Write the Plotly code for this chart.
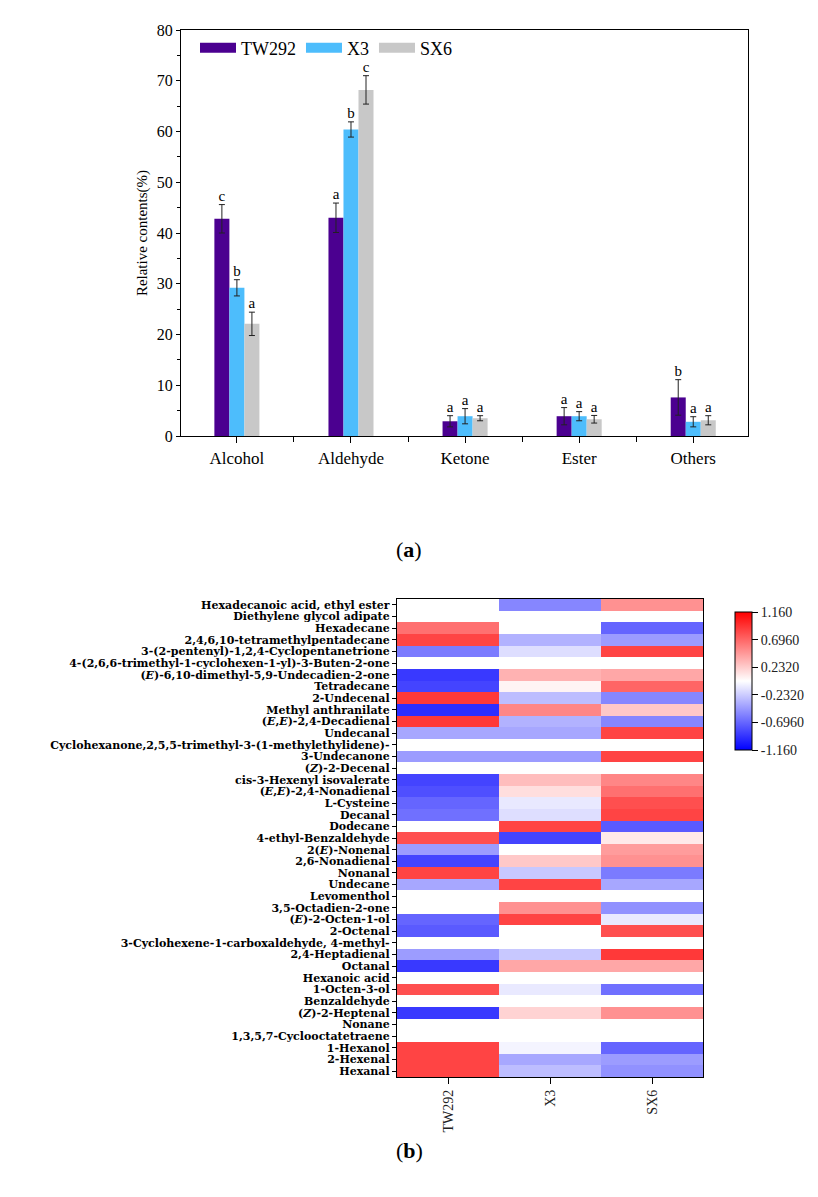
import plotly.graph_objects as go

# ---------------- (a) bar chart data ----------------
categories = ["Alcohol", "Aldehyde", "Ketone", "Ester", "Others"]
series_names = ["TW292", "X3", "SX6"]
tw292_vals = [42.8, 43.0, 2.9, 3.9, 7.6]
tw292_err = [2.8, 2.9, 1.1, 1.7, 3.5]
x3_vals = [29.2, 60.4, 3.9, 3.9, 2.8]
x3_err = [1.6, 1.5, 1.5, 0.9, 1.0]
sx6_vals = [22.1, 68.2, 3.5, 3.3, 3.1]
sx6_err = [2.3, 2.8, 0.5, 0.75, 0.9]
tw292_letters = ["c", "a", "a", "a", "b"]
x3_letters = ["b", "b", "a", "a", "a"]
sx6_letters = ["a", "c", "a", "a", "a"]
bar_colors = ["#4B0090", "#4DBDFC", "#C8C8C8"]

# ---------------- (b) heatmap data ----------------
samples = ["TW292", "X3", "SX6"]
compounds = [
    "Hexadecanoic acid, ethyl ester",
    "Diethylene glycol adipate",
    "Hexadecane",
    "2,4,6,10-tetramethylpentadecane",
    "3-(2-pentenyl)-1,2,4-Cyclopentanetrione",
    "4-(2,6,6-trimethyl-1-cyclohexen-1-yl)-3-Buten-2-one",
    "(<i>E</i>)-6,10-dimethyl-5,9-Undecadien-2-one",
    "Tetradecane",
    "2-Undecenal",
    "Methyl anthranilate",
    "(<i>E</i>,<i>E</i>)-2,4-Decadienal",
    "Undecanal",
    "Cyclohexanone,2,5,5-trimethyl-3-(1-methylethylidene)-",
    "3-Undecanone",
    "(<i>Z</i>)-2-Decenal",
    "cis-3-Hexenyl isovalerate",
    "(<i>E</i>,<i>E</i>)-2,4-Nonadienal",
    "L-Cysteine",
    "Decanal",
    "Dodecane",
    "4-ethyl-Benzaldehyde",
    "2(<i>E</i>)-Nonenal",
    "2,6-Nonadienal",
    "Nonanal",
    "Undecane",
    "Levomenthol",
    "3,5-Octadien-2-one",
    "(<i>E</i>)-2-Octen-1-ol",
    "2-Octenal",
    "3-Cyclohexene-1-carboxaldehyde, 4-methyl-",
    "2,4-Heptadienal",
    "Octanal",
    "Hexanoic acid",
    "1-Octen-3-ol",
    "Benzaldehyde",
    "(<i>Z</i>)-2-Heptenal",
    "Nonane",
    "1,3,5,7-Cyclooctatetraene",
    "1-Hexanol",
    "2-Hexenal",
    "Hexanal",
]
tw292_z = [0.0, 0.0, 0.65, 0.85, -0.6, 0.0, -0.9, -0.85, 0.9, -0.95,
           0.9, -0.4, 0.0, -0.45, 0.0, -0.85, -0.8, -0.7, -0.65, 0.0,
           0.8, -0.45, -0.85, 0.85, -0.4, 0.0, 0.0, -0.7, -0.75, 0.0,
           -0.45, -0.9, 0.0, 0.8, 0.0, -0.9, 0.0, 0.0, 0.85, 0.85, 0.85]
x3_z = [-0.55, 0.0, 0.0, -0.35, -0.15, 0.0, 0.35, 0.05, -0.3, 0.55,
        -0.35, -0.4, 0.0, -0.45, 0.0, 0.3, 0.15, -0.1, -0.15, 0.85,
        -0.85, 0.0, 0.25, -0.25, 0.85, 0.0, 0.5, 0.85, 0.0, 0.0,
        -0.25, 0.4, 0.0, -0.1, 0.0, 0.2, 0.0, 0.0, -0.05, -0.4, -0.3]
sx6_z = [0.5, 0.0, -0.7, -0.45, 0.85, 0.0, 0.4, 0.7, -0.55, 0.25,
         -0.55, 0.85, 0.0, 0.85, 0.0, 0.55, 0.65, 0.8, 0.85, -0.75,
         0.1, 0.45, 0.5, -0.6, -0.4, 0.0, -0.5, -0.1, 0.8, 0.0,
         0.9, 0.4, 0.0, -0.65, 0.0, 0.5, 0.0, 0.0, -0.7, -0.45, -0.5]
cbar_ticks = [1.16, 0.696, 0.232, -0.232, -0.696, -1.16]
cbar_ticktext = ["1.160", "0.6960", "0.2320", "-0.2320", "-0.6960", "-1.160"]

SERIF = "Liberation Serif"
WIDE_SERIF = "DejaVu Serif"
# page body has an 8px margin: size the figure to fit the window and
# convert reference-pixel positions to paper fractions accordingly
OFF = 8
W, H = 818 - OFF, 1197 - OFF


def px(x):
    return (x - OFF) / W


def py(y):
    return 1 - (y - OFF) / H


fig = go.Figure()

bar_w = 0.1316
offsets = [-bar_w, 0.0, bar_w]
vals_all = [tw292_vals, x3_vals, sx6_vals]
errs_all = [tw292_err, x3_err, sx6_err]
letters_all = [tw292_letters, x3_letters, sx6_letters]

for j, name in enumerate(series_names):
    xs = [i + offsets[j] for i in range(len(categories))]
    fig.add_trace(go.Bar(
        x=xs, y=vals_all[j], width=bar_w, name=name, showlegend=False,
        legendgroup=name,
        marker=dict(color=bar_colors[j], line=dict(width=0)),
        error_y=dict(type="data", array=errs_all[j], color="#222222",
                     thickness=1, width=3),
        xaxis="x", yaxis="y",
    ))
# legend entries drawn as thick line swatches (wide rectangles like the reference)
for j, name in enumerate(series_names):
    fig.add_trace(go.Scatter(
        x=[None], y=[None], mode="lines", name=name, legendgroup=name,
        line=dict(color=bar_colors[j], width=19),
        xaxis="x", yaxis="y",
    ))
for j in range(3):
    xs = [i + offsets[j] for i in range(len(categories))]
    ys = [v + e for v, e in zip(vals_all[j], errs_all[j])]
    fig.add_trace(go.Scatter(
        x=xs, y=ys, mode="text", text=letters_all[j],
        textposition="top center", showlegend=False,
        textfont=dict(family=SERIF, size=15, color="black"),
        xaxis="x", yaxis="y", hoverinfo="skip",
    ))

z = [[a, b, c] for a, b, c in zip(tw292_z, x3_z, sx6_z)]
fig.add_trace(go.Heatmap(
    z=z, x=samples, y=compounds, xaxis="x2", yaxis="y2",
    zmin=-1.16, zmax=1.16,
    colorscale=[[0, "rgb(0,0,255)"], [0.5, "rgb(255,255,255)"], [1, "rgb(255,0,0)"]],
    showscale=True,
    colorbar=dict(
        x=px(725), xanchor="left", y=py(602), yanchor="top",
        len=(760 - 602) / H, lenmode="fraction", thickness=17,
        thicknessmode="pixels", outlinecolor="black", outlinewidth=1,
        tickvals=cbar_ticks, ticktext=cbar_ticktext, ticks="outside",
        ticklen=6, tickcolor="black",
        tickfont=dict(family=SERIF, size=14, color="#222222"),
    ),
))

fig.update_layout(
    width=W, height=H,
    margin=dict(l=0, r=0, t=0, b=0, autoexpand=False),
    paper_bgcolor="white", plot_bgcolor="white",
    barmode="overlay",
    font=dict(family=SERIF, color="black"),
    legend=dict(
        orientation="h", x=px(195), y=py(48), xanchor="left", yanchor="middle",
        font=dict(family=SERIF, size=18, color="black"),
        bgcolor="rgba(0,0,0,0)", itemwidth=36, tracegroupgap=0,
    ),
    xaxis=dict(
        domain=[px(181), px(748)], range=[-0.49, 4.48], automargin=False,
        tickvals=list(range(len(categories))), ticktext=categories,
        ticks="outside", ticklen=6, tickcolor="black",
        showline=True, linecolor="black", linewidth=1.3, mirror=True,
        showgrid=False, zeroline=False,
        tickfont=dict(family=SERIF, size=17, color="black"),
        minor=dict(tickvals=[0.5, 1.5, 2.5, 3.5], ticks="outside", ticklen=5,
                   tickcolor="black", showgrid=False),
        anchor="y",
    ),
    yaxis=dict(
        domain=[py(436), py(30)], range=[0, 80], dtick=10, automargin=False,
        ticks="outside", ticklen=4, tickcolor="black",
        showline=True, linecolor="black", linewidth=1.3, mirror=True,
        showgrid=False, zeroline=False,
        tickfont=dict(family=SERIF, size=16, color="black"),
        minor=dict(dtick=5, ticks="outside", ticklen=3, tickcolor="black", showgrid=False),
        title=dict(text="Relative contents(%)", standoff=5,
                   font=dict(family=SERIF, size=15, color="black")),
        anchor="x",
    ),
    xaxis2=dict(
        domain=[px(397), px(703)], anchor="y2", automargin=False,
        ticks="outside", ticklen=6, tickcolor="black", tickangle=-90,
        showline=True, linecolor="black", linewidth=1.3, mirror=True,
        showgrid=False, zeroline=False,
        tickfont=dict(family=SERIF, size=14, color="#222222"),
    ),
    yaxis2=dict(
        domain=[py(1077), py(599)], anchor="x2", automargin=False,
        autorange="reversed", type="category",
        tickmode="array", tickvals=compounds, ticktext=compounds,
        ticks="outside", ticklen=4, tickcolor="black",
        showline=True, linecolor="black", linewidth=1.3, mirror=True,
        showgrid=False, zeroline=False,
        tickfont=dict(family=WIDE_SERIF, size=11, color="black", weight="bold"),
    ),
    annotations=[
        dict(text="(<b>a</b>)", x=px(409), y=py(549), xref="paper", yref="paper",
             showarrow=False, font=dict(family=SERIF, size=22, color="black")),
        dict(text="(<b>b</b>)", x=px(409), y=py(1165), xref="paper", yref="paper",
             showarrow=False, font=dict(family=SERIF, size=22, color="black")),
    ],
)

fig.write_html("out.html")
